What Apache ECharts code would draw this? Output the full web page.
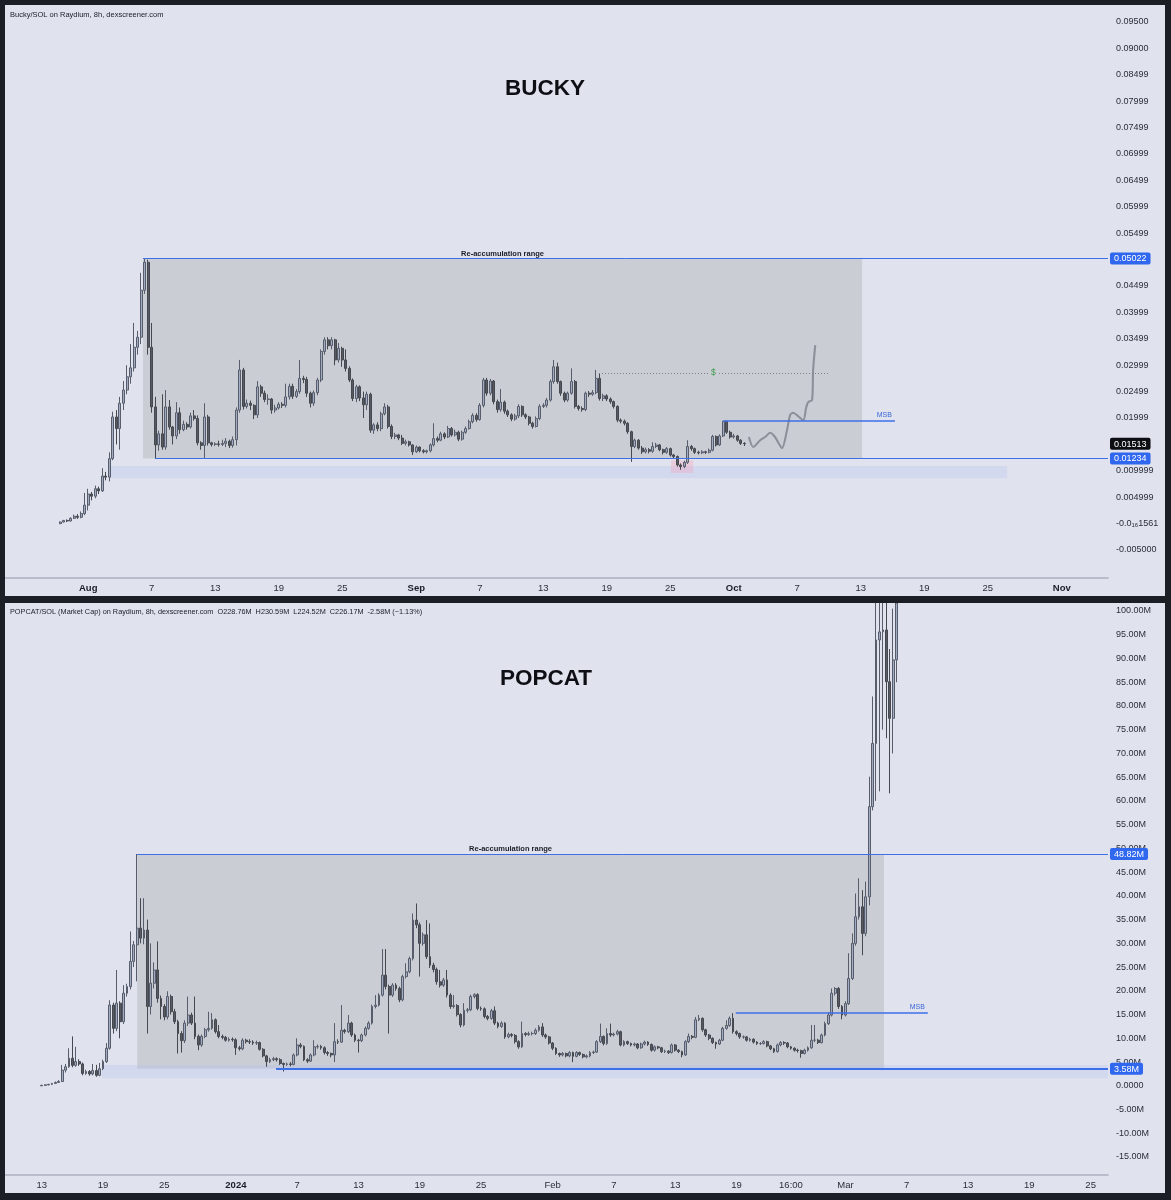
<!DOCTYPE html>
<html><head><meta charset="utf-8">
<script src="https://cdn.jsdelivr.net/npm/echarts@6/dist/echarts.min.js"></script>
<style>html,body{margin:0;padding:0;background:#1c1e25}#c{width:1171px;height:1200px}</style>
</head><body><div id="c"></div>
<script>
// ---------------- BUCKY (8h bars, bar 0 = Jul 29 08:00) : [open, close, low, high] in SOL
const buckyCandles = [
[0.0000,0.0003,-0.0001,0.0004],[0.0003,0.0006,0.0002,0.0007],[0.0006,0.0005,0.0003,0.0008],[0.0005,0.0010,0.0004,0.0012],
[0.0010,0.0014,0.0009,0.0017],[0.0014,0.0012,0.0009,0.0018],[0.0012,0.0019,0.0010,0.0023],[0.0019,0.0035,0.0016,0.0058],
[0.0035,0.0056,0.0025,0.0066],[0.0056,0.0052,0.0044,0.0060],[0.0052,0.0066,0.0048,0.0072],[0.0066,0.0062,0.0056,0.0070],
[0.0062,0.0090,0.0060,0.0105],[0.0090,0.0088,0.0082,0.0098],[0.0088,0.0123,0.0080,0.0135],[0.0123,0.0202,0.0120,0.0212],
[0.0202,0.0180,0.0150,0.0215],[0.0180,0.0228,0.0140,0.0240],[0.0228,0.0253,0.0215,0.0270],[0.0253,0.0278,0.0245,0.0300],
[0.0278,0.0295,0.0265,0.0340],[0.0295,0.0334,0.0288,0.0380],[0.0334,0.0353,0.0320,0.0365],[0.0353,0.0442,0.0340,0.0475],
[0.0442,0.0495,0.0435,0.05022],[0.0495,0.0334,0.0320,0.0500],[0.0334,0.0221,0.0210,0.0380],[0.0221,0.0149,0.01234,0.0240],
[0.0149,0.0170,0.0138,0.0176],[0.0170,0.0145,0.0140,0.0245],[0.0145,0.0221,0.0140,0.0253],[0.0221,0.0183,0.0178,0.0234],
[0.0183,0.0166,0.0150,0.0185],[0.0166,0.0210,0.0160,0.0230],[0.0210,0.0178,0.0170,0.0220],[0.0178,0.0188,0.0175,0.0195],
[0.0188,0.0183,0.0178,0.0192],[0.0183,0.0204,0.0180,0.0210],[0.0204,0.0199,0.0195,0.0215],[0.0199,0.0153,0.0148,0.0205],
[0.0153,0.0148,0.0140,0.0156],[0.0148,0.0202,0.0124,0.0228],[0.0202,0.0153,0.0148,0.0206],[0.0153,0.0150,0.0146,0.0155],
[0.0150,0.0151,0.0147,0.0154],[0.0151,0.0150,0.0146,0.0157],[0.0150,0.0152,0.0147,0.0159],[0.0152,0.0156,0.0145,0.0162],
[0.0156,0.0148,0.0143,0.0159],[0.0148,0.0159,0.0144,0.0165],[0.0159,0.0215,0.0148,0.0220],[0.0215,0.0291,0.0210,0.0310],
[0.0291,0.0222,0.0216,0.0295],[0.0222,0.0228,0.0218,0.0235],[0.0228,0.0224,0.0215,0.0233],[0.0224,0.0206,0.0198,0.0226],
[0.0206,0.0259,0.0200,0.0270],[0.0259,0.0247,0.0240,0.0263],[0.0247,0.0235,0.0230,0.0252],[0.0235,0.0236,0.0225,0.0245],
[0.0236,0.0215,0.0208,0.0238],[0.0215,0.0219,0.0210,0.0225],[0.0219,0.0226,0.0216,0.0230],[0.0226,0.0224,0.0219,0.0230],
[0.0224,0.0240,0.0220,0.0265],[0.0240,0.0260,0.0235,0.0265],[0.0260,0.0241,0.0236,0.0265],[0.0241,0.0250,0.0238,0.0255],
[0.0250,0.0275,0.0246,0.0310],[0.0275,0.0273,0.0266,0.0280],[0.0273,0.0247,0.0240,0.0278],[0.0247,0.0228,0.0220,0.0250],
[0.0228,0.0248,0.0223,0.0252],[0.0248,0.0272,0.0243,0.0276],[0.0272,0.0326,0.0268,0.0330],[0.0326,0.0348,0.0320,0.0353],
[0.0348,0.0337,0.0330,0.0353],[0.0337,0.0348,0.0330,0.0353],[0.0348,0.0310,0.0300,0.0350],[0.0310,0.0332,0.0305,0.0342],
[0.0332,0.0310,0.0297,0.0335],[0.0310,0.0294,0.0288,0.0330],[0.0294,0.0272,0.0268,0.0298],[0.0272,0.0237,0.0232,0.0275],
[0.0237,0.0259,0.0230,0.0263],[0.0259,0.0238,0.0232,0.0262],[0.0238,0.0225,0.0200,0.0250],[0.0225,0.0245,0.0215,0.0250],
[0.0245,0.0177,0.0172,0.0248],[0.0177,0.0187,0.0170,0.0190],[0.0187,0.0180,0.0175,0.0192],[0.0180,0.0208,0.0175,0.0212],
[0.0208,0.0221,0.0205,0.0228],[0.0221,0.0184,0.0180,0.0225],[0.0184,0.0165,0.0160,0.0188],[0.0165,0.0168,0.0160,0.0172],
[0.0168,0.0162,0.0158,0.0170],[0.0162,0.0152,0.0149,0.0168],[0.0152,0.0155,0.0148,0.0159],[0.0155,0.0149,0.0146,0.0157],
[0.0149,0.0136,0.0130,0.0150],[0.0136,0.0145,0.0134,0.0148],[0.0145,0.0138,0.0135,0.0146],[0.0138,0.0136,0.0133,0.0141],
[0.0136,0.0138,0.0133,0.0140],[0.0138,0.0149,0.0135,0.0152],[0.0149,0.0161,0.0146,0.0190],[0.0161,0.0158,0.0154,0.0165],
[0.0158,0.0170,0.0156,0.0174],[0.0170,0.0164,0.0160,0.0173],[0.0164,0.0180,0.0162,0.0185],[0.0180,0.0168,0.0165,0.0183],
[0.0168,0.0173,0.0165,0.0178],[0.0173,0.0160,0.0156,0.0176],[0.0160,0.0173,0.0157,0.0176],[0.0173,0.0180,0.0170,0.0184],
[0.0180,0.0193,0.0178,0.0197],[0.0193,0.0205,0.0190,0.0209],[0.0205,0.0197,0.0193,0.0209],[0.0197,0.0224,0.0195,0.0228],
[0.0224,0.0272,0.0220,0.0276],[0.0272,0.0247,0.0242,0.0276],[0.0247,0.0270,0.0243,0.0274],[0.0270,0.0231,0.0226,0.0272],
[0.0231,0.0216,0.0210,0.0235],[0.0216,0.0230,0.0212,0.0255],[0.0230,0.0213,0.0208,0.0233],[0.0213,0.0206,0.0202,0.0216],
[0.0206,0.0198,0.0194,0.0209],[0.0198,0.0204,0.0195,0.0208],[0.0204,0.0222,0.0200,0.0226],[0.0222,0.0206,0.0202,0.0224],
[0.0206,0.0202,0.0198,0.0209],[0.0202,0.0190,0.0186,0.0204],[0.0190,0.0184,0.0180,0.0193],[0.0184,0.0199,0.0182,0.0203],
[0.0199,0.0222,0.0196,0.0226],[0.0222,0.0224,0.0219,0.0228],[0.0224,0.0234,0.0220,0.0238],[0.0234,0.0269,0.0231,0.0273],
[0.0269,0.0297,0.0265,0.0310],[0.0297,0.0269,0.0265,0.0305],[0.0269,0.0247,0.0242,0.0271],[0.0247,0.0234,0.0230,0.0250],
[0.0234,0.0247,0.0231,0.0250],[0.0247,0.0269,0.0244,0.0294],[0.0269,0.0222,0.0218,0.0272],[0.0222,0.0218,0.0214,0.0225],
[0.0218,0.0216,0.0212,0.0222],[0.0216,0.0247,0.0213,0.0250],[0.0247,0.0245,0.0240,0.0251],[0.0245,0.0248,0.0242,0.0253],
[0.0248,0.0275,0.0245,0.0291],[0.0275,0.0237,0.0233,0.0285],[0.0237,0.0242,0.0232,0.0246],[0.0242,0.0236,0.0232,0.0245],
[0.0236,0.0231,0.0227,0.0239],[0.0231,0.0222,0.0218,0.0233],[0.0222,0.0196,0.0192,0.0224],[0.0196,0.0194,0.0190,0.0199],
[0.0194,0.0190,0.0186,0.0197],[0.0190,0.0174,0.0170,0.0192],[0.0174,0.0146,0.0117,0.0176],[0.0146,0.0158,0.0143,0.0161],
[0.0158,0.0143,0.0140,0.0160],[0.0143,0.0136,0.0132,0.0147],[0.0136,0.0140,0.0133,0.0144],[0.0140,0.0137,0.0133,0.0143],
[0.0137,0.0146,0.0134,0.0154],[0.0146,0.0149,0.0143,0.0153],[0.0149,0.0140,0.0137,0.0151],[0.0140,0.0135,0.0131,0.0142],
[0.0135,0.0142,0.0132,0.0145],[0.0142,0.0130,0.0127,0.0144],[0.0130,0.0127,0.0123,0.0132],[0.0127,0.0111,0.0108,0.0129],
[0.0111,0.0108,0.0102,0.0114],[0.0108,0.0116,0.0105,0.0119],[0.0116,0.0146,0.0113,0.0158],[0.0146,0.0142,0.0138,0.0149],
[0.0142,0.0135,0.0132,0.0144],[0.0135,0.0134,0.0131,0.0138],[0.0134,0.0136,0.0132,0.0139],[0.0136,0.0135,0.0132,0.0138],
[0.0135,0.0139,0.0133,0.0142],[0.0139,0.0165,0.0137,0.0168],[0.0165,0.0149,0.0146,0.0167],[0.0149,0.0166,0.0147,0.0169],
[0.0166,0.0194,0.0164,0.0194],[0.0194,0.0173,0.0170,0.0194],[0.0173,0.0164,0.0161,0.0176],[0.0164,0.0166,0.0161,0.0170],
[0.0166,0.0158,0.0155,0.0168],[0.0158,0.0152,0.0149,0.0160],[0.0152,0.01513,0.0147,0.0154]
];
// hand-drawn projection (bar position, price)
const buckyProjBars = [195.3,196.5,198.5,199.9,201.3,202.7,204.7,206.1,207.0,207.8,210.7,211.5,212.1,213.2,213.5,214.1];
const buckyProjVals = [0.0164,0.0145,0.0158,0.0164,0.0172,0.0164,0.0143,0.0177,0.0206,0.0210,0.0196,0.0219,0.0230,0.0234,0.0291,0.0338];
const buckyXTicks = [8,26,44,62,80,101,119,137,155,173,191,209,227,245,263,284];
const buckyXLabels = ['Aug','7','13','19','25','Sep','7','13','19','25','Oct','7','13','19','25','Nov'];
const buckyYTicks = [0.095,0.09,0.085,0.08,0.075,0.07,0.065,0.06,0.055,0.045,0.04,0.035,0.03,0.025,0.02,0.01,0.005,0,-0.005];
const buckyYLabels = ['0.09500','0.09000','0.08499','0.07999','0.07499','0.06999','0.06499','0.05999','0.05499','0.04499','0.03999','0.03499','0.02999','0.02499','0.01999','0.009999','0.004999','-0.0₁₆1561','-0.005000'];
const buckyTagVals = [0.05022,0.01513,0.01234];
const buckyTagLabels = ['0.05022','0.01513','0.01234'];
const buckyTagKinds = ['b','k','b'];
const buckyRangeHigh = 0.05022, buckyRangeLow = 0.01234, buckyLiquidity = 0.0285, buckyMSB = 0.0194;

// ---------------- POPCAT (8h bars, bar 0 = Dec 13 00:00) : [open, close, low, high] in M USD
const popcatCandles = [
[0.0,0.1,-0.1,0.2],[0.1,0.2,0.0,0.3],[0.2,0.3,0.1,0.4],[0.3,0.5,0.2,0.6],[0.5,0.7,0.4,0.9],[0.7,0.9,0.6,1.2],
[0.9,3.3,0.8,4.4],[3.3,4.0,2.8,4.6],[4.0,5.8,3.8,7.9],[5.8,4.3,3.9,10.4],[4.3,5.1,4.0,8.2],[5.1,4.6,4.2,5.6],
[4.6,2.6,2.2,4.9],[2.6,3.0,2.3,3.4],[3.0,2.5,2.1,3.3],[2.5,3.2,2.2,4.6],[3.2,2.2,1.9,4.4],[2.2,3.6,2.0,4.8],
[3.6,5.1,3.3,5.5],[5.1,7.9,4.8,9.0],[7.9,17.0,7.6,18.0],[17.0,12.1,11.0,17.5],[12.1,17.4,11.5,24.4],[17.4,13.5,10.0,17.8],
[13.5,19.5,13.0,21.2],[19.5,20.9,18.8,21.5],[20.9,26.2,20.3,32.5],[26.2,29.7,25.0,30.5],[29.7,33.2,22.0,48.82],[33.2,31.1,30.0,39.5],
[31.1,32.8,29.8,39.5],[32.8,16.7,11.0,35.0],[16.7,21.6,15.0,30.0],[21.6,24.4,20.5,26.0],[24.4,18.4,17.5,30.4],[18.4,16.7,14.0,19.0],
[16.7,14.5,13.8,17.2],[14.5,18.8,14.0,19.9],[18.8,15.6,15.0,19.2],[15.6,13.5,13.0,16.2],[13.5,11.0,6.8,13.9],[11.0,9.5,7.0,11.5],
[9.5,13.2,9.0,13.8],[13.2,14.9,12.6,18.8],[14.9,13.2,12.8,15.4],[13.2,10.4,9.8,18.8],[10.4,8.6,7.5,10.8],[8.6,10.4,8.2,10.8],
[10.4,11.8,10.0,12.2],[11.8,12.1,11.4,15.6],[12.1,13.9,11.8,15.3],[13.9,11.4,11.0,14.2],[11.4,10.4,10.0,12.8],[10.4,10.2,9.8,10.8],
[10.2,9.6,9.3,10.5],[9.6,9.8,9.3,10.2],[9.8,9.7,9.3,10.2],[9.7,8.0,6.5,10.0],[8.0,7.8,7.4,8.4],[7.8,9.6,7.5,10.0],
[9.6,9.3,8.9,9.9],[9.3,9.2,8.8,9.8],[9.2,9.0,8.6,9.6],[9.0,9.1,8.6,9.5],[9.1,7.7,7.4,9.3],[7.7,6.3,6.0,7.9],
[6.3,5.1,4.0,6.5],[5.1,5.5,4.8,5.9],[5.5,5.7,5.2,6.1],[5.7,5.5,5.1,6.0],[5.5,4.7,4.4,5.8],[4.7,4.5,3.0,4.9],
[4.5,4.6,4.2,4.9],[4.6,4.5,4.1,5.0],[4.5,6.5,4.3,6.8],[6.5,8.6,6.2,10.0],[8.6,8.3,7.9,9.0],[8.3,5.5,5.2,8.5],
[5.5,5.2,4.8,5.8],[5.2,6.5,5.0,6.8],[6.5,8.2,6.2,9.6],[8.2,8.3,7.8,8.7],[8.3,8.0,7.6,8.6],[8.0,7.0,6.6,8.3],
[7.0,6.8,6.3,7.3],
[6.8,6.5,6.0,7.0],[6.5,9.3,5.0,13.2],[9.3,9.2,8.8,9.8],[9.2,11.7,9.0,17.0],[11.7,11.4,11.0,12.0],[11.4,13.2,11.1,14.9],
[13.2,10.7,10.3,13.5],[10.7,9.6,9.2,11.0],[9.6,9.5,7.0,9.9],[9.5,10.7,9.2,11.0],[10.7,12.1,10.4,12.5],[12.1,13.2,11.8,13.6],
[13.2,16.7,12.9,17.1],[16.7,17.0,16.3,19.1],[17.0,19.1,16.7,19.5],[19.1,23.3,18.8,28.8],[23.3,20.9,20.3,28.8],[20.9,19.1,11.0,21.3],
[19.1,21.2,18.7,21.6],[21.2,20.5,20.0,21.6],[20.5,18.1,17.6,20.9],[18.1,23.0,17.8,23.4],[23.0,24.0,22.6,25.8],[24.0,26.8,23.7,27.2],
[26.8,34.9,26.4,36.3],[34.9,33.9,33.2,38.4],[33.9,30.0,23.0,34.4],[30.0,31.8,29.5,32.3],[31.8,27.2,26.7,34.9],[27.2,25.4,24.8,34.2],
[25.4,24.5,23.9,25.9],[24.5,21.9,21.3,24.9],[21.9,21.2,20.7,24.4],[21.2,22.3,20.8,22.7],[22.3,19.1,18.6,24.4],[19.1,16.7,16.2,19.5],
[16.7,16.9,16.3,19.1],[16.9,15.0,14.6,17.2],[15.0,12.8,12.3,15.3],[12.8,15.9,12.5,17.4],[15.9,16.0,15.4,16.4],[16.0,18.8,15.7,19.2],
[18.8,19.2,18.4,19.5],[19.2,16.3,15.9,19.5],[16.3,16.2,15.8,16.7],[16.2,14.6,14.2,16.5],[14.6,14.2,13.8,14.9],[14.2,15.8,13.9,16.2],
[15.8,13.2,12.8,16.7],[13.2,12.5,12.1,13.5],[12.5,13.2,12.2,13.6],[13.2,10.3,9.9,13.4],[10.3,10.8,10.0,11.2],[10.8,10.6,10.2,11.1],
[10.6,9.3,8.9,10.9],[9.3,8.2,7.8,9.6],[8.2,11.0,8.0,13.5],[11.0,10.8,10.4,11.3],[10.8,11.0,10.5,11.4],[11.0,11.0,10.6,11.4],
[11.0,11.7,10.7,12.1],[11.7,12.4,11.4,12.8],[12.4,10.7,10.3,13.2],[10.7,10.3,9.9,11.0],[10.3,9.0,8.7,10.5],[9.0,7.9,7.5,9.2],
[7.9,6.8,6.5,8.1],[6.8,6.5,6.1,7.0],[6.5,6.8,6.2,7.1],[6.8,6.3,6.0,7.0],[6.3,7.0,6.0,7.3],[7.0,6.2,5.0,7.2],
[6.2,7.0,6.0,7.3],[7.0,6.6,6.3,7.2],[6.6,6.1,5.8,6.8],[6.1,6.3,5.8,6.6],[6.3,7.0,6.0,7.3],[7.0,7.1,6.7,7.4],
[7.1,9.3,6.9,9.6],[9.3,10.4,9.0,13.1],[10.4,8.9,8.5,10.6],[8.9,11.0,8.6,12.1],[11.0,10.7,10.3,13.1],[10.7,10.9,10.4,11.2],
[10.9,11.4,10.6,11.8],[11.4,8.6,8.3,11.6],[8.6,9.3,8.3,9.6],[9.3,8.9,8.6,9.5],[8.9,8.6,8.3,9.1],[8.6,8.8,8.3,9.1],
[8.8,8.0,7.7,9.0],[8.0,8.8,7.8,9.1],[8.8,9.2,8.5,9.5],[9.2,8.7,8.4,9.4],[8.7,7.5,7.2,8.9],[7.5,8.2,7.2,8.5],
[8.2,8.0,7.7,8.4],[8.0,7.2,6.9,8.2],[7.2,7.3,6.9,7.6],[7.3,7.0,6.7,7.5],[7.0,8.6,6.8,8.9],[8.6,7.5,7.2,8.8],
[7.5,7.2,6.9,7.7],[7.2,6.5,6.0,7.4],[6.5,9.3,6.3,9.6],[9.3,10.4,9.0,11.0],[10.4,10.2,9.8,10.7],[10.2,13.9,10.0,14.5],
[13.9,14.2,13.6,14.9],[14.2,11.8,11.4,14.4],[11.8,10.7,10.3,12.0],[10.7,10.0,9.6,10.9],[10.0,9.1,8.8,10.2],[9.1,8.8,7.8,9.3],
[8.8,9.6,8.6,9.9],[9.6,12.1,9.4,12.4],[12.1,12.7,11.8,13.8],[12.7,14.2,12.4,14.6],[14.2,11.4,11.0,15.3],[11.4,11.0,10.6,11.7],
[11.0,10.3,9.9,11.2],[10.3,10.3,9.9,10.6],[10.3,9.6,9.3,10.5],[9.6,9.8,9.3,10.1],[9.8,9.2,8.9,10.0],[9.2,8.9,8.6,9.4],
[8.9,8.9,8.6,9.2],[8.9,9.3,8.7,9.6],[9.3,8.4,8.1,9.5],[8.4,7.8,7.5,8.6],[7.8,7.2,6.9,8.0],
[7.2,8.6,7.0,8.9],[8.6,9.1,8.3,9.4],[9.1,9.0,8.6,9.4],[9.0,8.2,7.9,9.2],[8.2,7.9,7.6,8.4],[7.9,7.5,7.2,8.1],
[7.5,7.4,7.0,7.8],[7.4,6.8,5.9,7.6],[6.8,7.5,6.6,7.8],[7.5,8.0,7.2,8.3],[8.0,9.6,7.8,12.8],[9.6,9.6,9.2,12.8],
[9.6,9.1,8.8,9.9],[9.1,10.7,8.9,11.0],[10.7,13.1,10.4,13.5],[13.1,14.9,12.8,15.5],[14.9,19.5,14.6,20.5],[19.5,20.5,19.0,20.8],
[20.5,16.7,16.2,20.8],[16.7,14.9,14.0,17.0],[14.9,17.3,14.6,17.8],[17.3,22.6,17.0,27.9],[22.6,30.0,22.3,32.1],[30.0,35.6,29.5,40.5],
[35.6,37.7,35.0,43.7],[37.7,32.1,27.5,41.2],[32.1,39.8,31.5,43.0],[39.8,58.8,38.0,65.1],[58.8,72.1,58.0,82.0],[72.1,93.9,60.0,110],
[93.9,95.6,62.0,110],[95.6,96.0,75.0,110],[96.0,85.1,73.2,110],[85.1,77.4,61.6,92.0],[77.4,89.7,70.0,100.5],[89.7,104,85.0,112]
];
const popXTicks = [0,18,36,57,75,93,111,129,150,168,186,204,220,236,254,272,290,308];
const popXLabels = ['13','19','25','2024','7','13','19','25','Feb','7','13','19','16:00','Mar','7','13','19','25'];
const popYTicks = [100,95,90,85,80,75,70,65,60,55,50,45,40,35,30,25,20,15,10,5,0,-5,-10,-15];
const popYLabels = ['100.00M','95.00M','90.00M','85.00M','80.00M','75.00M','70.00M','65.00M','60.00M','55.00M','50.00M','45.00M','40.00M','35.00M','30.00M','25.00M','20.00M','15.00M','10.00M','5.00M','0.0000','-5.00M','-10.00M','-15.00M'];
const popTagVals = [48.82,3.58];
const popTagLabels = ['48.82M','3.58M'];
const popTagKinds = ['b','b'];
const popRangeHigh = 48.82, popRangeLow = 3.58, popMSB = 15.3;

// ---------------- rendering
const FONT = '"Liberation Sans", Arial, sans-serif';
const PANEL = '#e0e3ee', BOX = '#cbcdd5', BLUE = '#3d6fe8', TAGBLUE = '#2f67ee';
const BX = {min: -15.6, max: 297.1}, PX = {min: -10.8, max: 313.1};
const BY = {min: -0.0103, max: 0.09822}, PY = {min: -18.79, max: 101.685};

function near(a, b) { return Math.abs(a - b) < 1e-9; }
function yFormatter(ticks, labels, tagVals, tagLabels, tagKinds) {
  return function (v) {
    for (let i = 0; i < tagVals.length; i++) if (near(tagVals[i], v)) return '{' + tagKinds[i] + '|' + tagLabels[i] + '}';
    for (let i = 0; i < ticks.length; i++) if (near(ticks[i], v)) {
      const s = labels[i];
      if (s.indexOf('₁₆') >= 0) { const p = s.split('₁₆'); return '{n|' + p[0] + '}{s|16}{m|' + p[1] + '}'; }
      return '{n|' + s + '}';
    }
    return '';
  };
}
function xFormatter(ticks, labels, boldSet) {
  return function (v) {
    for (let i = 0; i < ticks.length; i++) if (near(ticks[i], v)) {
      return (boldSet.indexOf(labels[i]) >= 0 ? '{b|' : '{n|') + labels[i] + '}';
    }
    return '';
  };
}
const yRich = {
  n: {color: '#2a2e39', fontSize: 9, fontFamily: FONT, padding: [0, 0, 0, 6]},
  m: {color: '#2a2e39', fontSize: 9, fontFamily: FONT},
  s: {color: '#2a2e39', fontSize: 6, fontFamily: FONT, padding: [4, 0, 0, 0]},
  b: {color: '#fff', fontSize: 9, fontFamily: FONT, backgroundColor: TAGBLUE, padding: [2, 4, 1, 4], borderRadius: 2},
  k: {color: '#fff', fontSize: 9, fontFamily: FONT, backgroundColor: '#0c0e13', padding: [2, 4, 1, 4], borderRadius: 2}
};
const xRich = {
  n: {color: '#2a2e39', fontSize: 9.5, fontFamily: FONT},
  b: {color: '#1a1d26', fontSize: 9.5, fontFamily: FONT, fontWeight: 'bold'}
};
function xAxisDef(gi, rng, ticks, labels, bold) {
  return {
    type: 'value', gridIndex: gi, min: rng.min, max: rng.max,
    axisLine: {show: true, onZero: false, lineStyle: {color: '#aab0c0', width: 1.5}},
    axisTick: {show: false}, splitLine: {show: false},
    axisLabel: {customValues: ticks, formatter: xFormatter(ticks, labels, bold), margin: 5, hideOverlap: false, rich: xRich}
  };
}
function yAxisDef(gi, rng, ticks, labels, tv, tl, tk) {
  return {
    type: 'value', gridIndex: gi, position: 'right', min: rng.min, max: rng.max, scale: true,
    axisLine: {show: false, onZero: false}, axisTick: {show: false}, splitLine: {show: false},
    axisLabel: {customValues: ticks.concat(tv), formatter: yFormatter(ticks, labels, tv, tl, tk),
      margin: 2, align: 'left', hideOverlap: false, rich: yRich}
  };
}
function hline(x1, x2, y, color, width, extra) {
  return [Object.assign({coord: [x1, y], lineStyle: {color: color, width: width, type: 'solid'}}, extra || {}), {coord: [x2, y]}];
}
// candles that run past the top of the price scale are cut at the scale's edge (like the reference)
function toSeries(rows, ymax) {
  return rows.map(function (d, i) {
    return [i, Math.min(d[0], ymax), Math.min(d[1], ymax), Math.min(d[2], ymax), Math.min(d[3], ymax)];
  });
}
const candleStyle = {color: '#a2adc3', color0: '#575a63', borderColor: '#575d6b', borderColor0: '#45484f', borderWidth: 1};
const rangeLabel = {show: true, position: 'top', distance: 1, color: '#1a1d26', fontSize: 7.5, fontWeight: 'bold', fontFamily: FONT};
const msbLabel = {show: true, position: 'insideEndTop', distance: 3, formatter: 'MSB', color: '#3a66d8', fontSize: 7, fontFamily: FONT};

const option = {
  animation: false,
  backgroundColor: PANEL,
  grid: [
    {left: 5, top: 5, width: 1103, height: 573, outerBoundsMode: 'none'},
    {left: 5, top: 603, width: 1103, height: 572, outerBoundsMode: 'none'}
  ],
  xAxis: [
    xAxisDef(0, BX, buckyXTicks, buckyXLabels, ['Aug', 'Sep', 'Oct', 'Nov']),
    xAxisDef(1, PX, popXTicks, popXLabels, ['2024'])
  ],
  yAxis: [
    yAxisDef(0, BY, buckyYTicks, buckyYLabels, buckyTagVals, buckyTagLabels, buckyTagKinds),
    yAxisDef(1, PY, popYTicks, popYLabels, popTagVals, popTagLabels, popTagKinds)
  ],
  series: [
    {
      type: 'candlestick', xAxisIndex: 0, yAxisIndex: 0, barWidth: 2.5, clip: true, itemStyle: candleStyle,
      data: toSeries(buckyCandles, BY.max),
      markArea: {
        silent: true, label: {show: false},
        data: [
          [{name: 'Re-accumulation range', coord: [23.5, buckyRangeLow], itemStyle: {color: BOX}, label: rangeLabel}, {coord: [227.4, buckyRangeHigh]}],
          [{coord: [14.2, 0.0086], itemStyle: {color: 'rgba(180,192,238,0.32)'}}, {coord: [268.5, 0.0109]}],
          [{coord: [173.2, 0.0096], itemStyle: {color: 'rgba(245,160,185,0.35)'}}, {coord: [179.5, 0.0120]}]
        ]
      },
      markLine: {
        silent: true, symbol: ['none', 'none'], label: {show: false},
        data: [
          hline(23.5, BX.max, buckyRangeHigh, BLUE, 1),
          hline(26.9, BX.max, buckyRangeLow, BLUE, 1.2),
          [{coord: [152.8, buckyLiquidity], lineStyle: {color: '#7c7f89', width: 1, type: [1, 2]}}, {coord: [217.7, buckyLiquidity]}],
          hline(188, 236.7, buckyMSB, BLUE, 1.5, {label: msbLabel})
        ]
      },
      markPoint: {
        silent: true,
        data: [{coord: [185.25, buckyLiquidity], symbol: 'rect', symbolSize: [7, 9], itemStyle: {color: BOX},
          label: {show: true, position: 'inside', formatter: '$', color: '#3d9a4e', fontSize: 8.5, fontFamily: FONT}}]
      }
    },
    {
      type: 'line', xAxisIndex: 0, yAxisIndex: 0, symbol: 'none', smooth: 0.25, z: 4,
      lineStyle: {color: '#8d9099', width: 2.1},
      data: buckyProjBars.map(function (b, i) { return [b, buckyProjVals[i]]; })
    },
    {
      type: 'candlestick', xAxisIndex: 1, yAxisIndex: 1, barWidth: 2.3, clip: true, itemStyle: candleStyle,
      data: toSeries(popcatCandles, PY.max),
      markArea: {
        silent: true, label: {show: false},
        data: [
          [{name: 'Re-accumulation range', coord: [28, popRangeLow], itemStyle: {color: BOX}, label: rangeLabel}, {coord: [247.3, popRangeHigh]}],
          [{coord: [17.7, 1.6], itemStyle: {color: 'rgba(180,192,238,0.32)'}}, {coord: [PX.max, 4.4]}]
        ]
      },
      markLine: {
        silent: true, symbol: ['none', 'none'], label: {show: false},
        data: [
          hline(28, PX.max, popRangeHigh, BLUE, 1),
          hline(68.8, PX.max, popRangeLow, BLUE, 1.8),
          hline(203.8, 260.2, popMSB, BLUE, 1.5, {label: msbLabel})
        ]
      }
    }
  ],
  graphic: [
    {type: 'text', x: 10, y: 11, z: 50, silent: true, style: {text: 'Bucky/SOL on Raydium, 8h, dexscreener.com', fill: '#1a1d26', fontSize: 7.5, fontFamily: FONT, align: 'left', verticalAlign: 'top', textAlign: 'left', textVerticalAlign: 'top'}},
    {type: 'text', x: 10, y: 608, z: 50, silent: true, style: {text: 'POPCAT/SOL (Market Cap) on Raydium, 8h, dexscreener.com  O228.76M  H230.59M  L224.52M  C226.17M  -2.58M (\u22121.13%)', fill: '#1a1d26', fontSize: 7.3, fontFamily: FONT, align: 'left', verticalAlign: 'top', textAlign: 'left', textVerticalAlign: 'top'}},
    {type: 'text', x: 545, y: 89, z: 50, silent: true, style: {text: 'BUCKY', fill: '#0d0f14', fontSize: 22.5, fontWeight: 'bold', fontFamily: FONT, align: 'center', verticalAlign: 'middle', textAlign: 'center', textVerticalAlign: 'middle'}},
    {type: 'text', x: 546, y: 679, z: 50, silent: true, style: {text: 'POPCAT', fill: '#0d0f14', fontSize: 22.5, fontWeight: 'bold', fontFamily: FONT, align: 'center', verticalAlign: 'middle', textAlign: 'center', textVerticalAlign: 'middle'}},
    {type: 'rect', z: 100, silent: true, shape: {x: 0, y: 0, width: 1171, height: 5}, style: {fill: '#1c1e25'}},
    {type: 'rect', z: 100, silent: true, shape: {x: 0, y: 0, width: 5, height: 1200}, style: {fill: '#1c1e25'}},
    {type: 'rect', z: 100, silent: true, shape: {x: 1165, y: 0, width: 6, height: 1200}, style: {fill: '#1c1e25'}},
    {type: 'rect', z: 100, silent: true, shape: {x: 0, y: 596, width: 1171, height: 7}, style: {fill: '#1c1e25'}},
    {type: 'rect', z: 100, silent: true, shape: {x: 0, y: 1193, width: 1171, height: 7}, style: {fill: '#1c1e25'}}
  ]
};
const chart = echarts.init(document.getElementById('c'), null, {renderer: 'canvas'});
chart.setOption(option);
</script></body></html>
